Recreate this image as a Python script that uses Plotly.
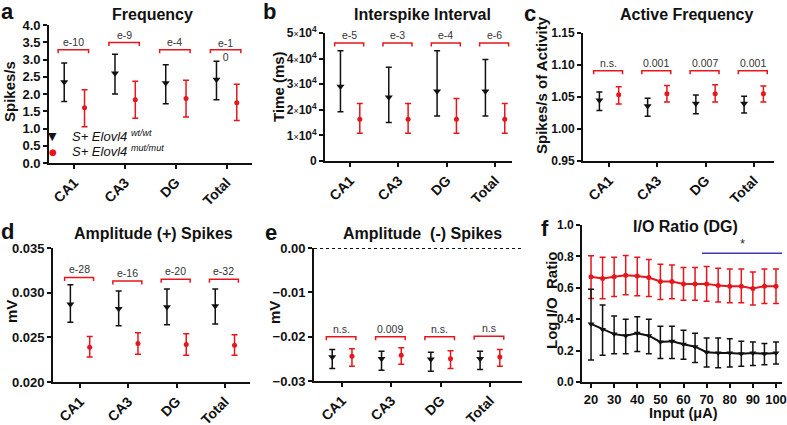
import plotly.graph_objects as go

W, H = 787, 425
FONT = "Liberation Sans, Arial, Helvetica, sans-serif"
BLACK = "#111111"
RED = "#e5161d"
BLUE = "#3b3bb8"
GRAY = "#333333"

categories = ["CA1", "CA3", "DG", "Total"]

# (a) Frequency (Spikes/s)
freq_wt = [2.35, 2.60, 2.32, 2.42]
freq_wt_hi = [2.90, 3.15, 2.85, 2.95]
freq_wt_lo = [1.78, 2.00, 1.72, 1.83]
freq_mut = [1.60, 1.83, 1.87, 1.75]
freq_mut_hi = [2.12, 2.37, 2.40, 2.28]
freq_mut_lo = [1.05, 1.30, 1.33, 1.23]
freq_brk = [3.28, 3.49, 3.28, 3.28]
freq_p = ["e-10", "e-9", "e-4", "e-1<br>0"]

# (b) Interspike interval (ms)
isi_wt = [29100, 24900, 27200, 27200]
isi_wt_hi = [43100, 36600, 43100, 39600]
isi_wt_lo = [19200, 15000, 17600, 17600]
isi_mut = [16300, 16300, 16300, 16300]
isi_mut_hi = [22500, 22500, 24400, 22500]
isi_mut_lo = [10800, 10800, 10800, 10800]
isi_brk = [46100, 46100, 46100, 46100]
isi_p = ["e-5", "e-3", "e-4", "e-6"]
isi_ticks = [0, 10000, 20000, 30000, 40000, 50000]
isi_mant = ["0", "1", "2", "3", "4", "5"]

# (c) Active frequency (Spikes/s of activity)
act_wt = [1.0448, 1.036, 1.040, 1.040]
act_wt_hi = [1.058, 1.048, 1.053, 1.051]
act_wt_lo = [1.029, 1.020, 1.024, 1.025]
act_mut = [1.0535, 1.055, 1.055, 1.055]
act_mut_hi = [1.066, 1.068, 1.069, 1.067]
act_mut_lo = [1.039, 1.042, 1.042, 1.042]
act_brk = [1.091, 1.091, 1.091, 1.091]
act_p = ["n.s.", "0.001", "0.007", "0.001"]

# (d) Amplitude (+) spikes (mV)
ampp_wt = [0.0287, 0.0282, 0.0284, 0.0285]
ampp_wt_hi = [0.0309, 0.0302, 0.0304, 0.0304]
ampp_wt_lo = [0.0267, 0.0263, 0.0264, 0.0265]
ampp_mut = [0.0239, 0.0243, 0.0242, 0.0241]
ampp_mut_hi = [0.0251, 0.0255, 0.0254, 0.0253]
ampp_mut_lo = [0.0228, 0.0231, 0.0230, 0.0230]
ampp_brk = [0.0317, 0.0313, 0.0315, 0.0315]
ampp_p = ["e-28", "e-16", "e-20", "e-32"]

# (e) Amplitude (-) spikes (mV)
ampn_wt = [-0.0246, -0.0250, -0.0251, -0.0250]
ampn_wt_hi = [-0.0229, -0.0233, -0.0235, -0.0233]
ampn_wt_lo = [-0.0272, -0.0276, -0.0278, -0.0274]
ampn_mut = [-0.0244, -0.0242, -0.0250, -0.0246]
ampn_mut_hi = [-0.0227, -0.0225, -0.0232, -0.0229]
ampn_mut_lo = [-0.0267, -0.0262, -0.0272, -0.0267]
ampn_brk = [-0.0200, -0.0200, -0.0200, -0.0199]
ampn_p = ["n.s.", "0.009", "n.s.", "n.s"]

# (f) I/O ratio (DG)
io_input = [20, 25, 30, 35, 40, 45, 50, 55, 60, 65, 70, 75, 80, 85, 90, 95, 100]
io_mut = [0.670, 0.660, 0.670, 0.680, 0.675, 0.665, 0.640, 0.640, 0.625, 0.625, 0.625, 0.615, 0.610, 0.610, 0.595, 0.610, 0.610]
io_mut_hi = [0.804, 0.795, 0.795, 0.805, 0.795, 0.780, 0.750, 0.745, 0.730, 0.730, 0.735, 0.725, 0.720, 0.720, 0.700, 0.720, 0.720]
io_mut_lo = [0.532, 0.530, 0.545, 0.555, 0.550, 0.545, 0.525, 0.530, 0.520, 0.520, 0.515, 0.510, 0.505, 0.505, 0.490, 0.500, 0.500]
io_wt = [0.370, 0.335, 0.305, 0.295, 0.310, 0.295, 0.255, 0.260, 0.240, 0.225, 0.190, 0.185, 0.185, 0.180, 0.185, 0.180, 0.185]
io_wt_hi = [0.590, 0.490, 0.420, 0.400, 0.415, 0.400, 0.355, 0.355, 0.330, 0.310, 0.280, 0.280, 0.275, 0.260, 0.255, 0.245, 0.255]
io_wt_lo = [0.140, 0.170, 0.180, 0.180, 0.195, 0.180, 0.150, 0.150, 0.145, 0.125, 0.095, 0.090, 0.095, 0.100, 0.105, 0.110, 0.115]
io_sig_start = 68
io_sig_level = 0.82
io_xticks = [20, 30, 40, 50, 60, 70, 80, 90, 100]

legend_wt = "<i>S+ Elovl4</i> <sup><i>wt/wt</i></sup>"
legend_mut = "<i>S+ Elovl4</i> <sup><i>mut/mut</i></sup>"


def pxx(v):
    return v / W


def pxy(v):
    return 1 - v / H


def tfont(size):
    return dict(family=FONT, size=size, color=BLACK, weight="bold")


def label(x, y, text, size, angle=0, bold=True, xanchor="center", color=BLACK, family=FONT):
    return dict(x=pxx(x), y=pxy(y), xref="paper", yref="paper", text=text, showarrow=False,
                xanchor=xanchor, yanchor="middle", textangle=angle,
                font=dict(family=family, size=size, color=color, weight="bold" if bold else "normal"))


isi_ticktext = [m if m == "0" else
                m + "<span style='font-size:9px;font-weight:normal'>×</span>10<sup>4</sup>"
                for m in isi_mant]

fig = go.Figure()
annotations = []
shapes = []

panels = [
    dict(k="", letter="a", title="Frequency", ytitle="Spikes/s",
         xpx=(49, 252), ypx=(25, 163), xr=(-0.5, 3.5), yr=(0, 4.0), tsize=13,
         yt=dict(tickvals=[0, 0.5, 1, 1.5, 2, 2.5, 3, 3.5, 4], tickformat=".1f"),
         data=(freq_wt, freq_wt_hi, freq_wt_lo, freq_mut, freq_mut_hi, freq_mut_lo, freq_brk, freq_p),
         lpos=(7, 12), tpos=(152, 15), ytpos=(10, 92)),
    dict(k="2", letter="b", title="Interspike Interval", ytitle="Time (ms)",
         xpx=(325, 512), ypx=(33, 161), xr=(-0.52, 3.35), yr=(0, 50000), tsize=12,
         yt=dict(tickvals=isi_ticks, ticktext=isi_ticktext),
         data=(isi_wt, isi_wt_hi, isi_wt_lo, isi_mut, isi_mut_hi, isi_mut_lo, isi_brk, isi_p),
         lpos=(269, 12), tpos=(422, 15), ytpos=(278, 87)),
    dict(k="3", letter="c", title="Active Frequency", ytitle="Spikes/s of Activity",
         xpx=(583, 774), ypx=(33, 161), xr=(-0.54, 3.42), yr=(0.95, 1.15), tsize=12,
         yt=dict(tickvals=[0.95, 1.0, 1.05, 1.10, 1.15], tickformat=".2f"),
         data=(act_wt, act_wt_hi, act_wt_lo, act_mut, act_mut_hi, act_mut_lo, act_brk, act_p),
         lpos=(530, 13), tpos=(686, 15), ytpos=(542, 85)),
    dict(k="4", letter="d", title="Amplitude (+) Spikes", ytitle="mV",
         xpx=(53, 250), ypx=(248, 382), xr=(-0.56, 3.52), yr=(0.020, 0.035), tsize=13,
         yt=dict(tickvals=[0.020, 0.025, 0.030, 0.035], tickformat=".3f"),
         data=(ampp_wt, ampp_wt_hi, ampp_wt_lo, ampp_mut, ampp_mut_hi, ampp_mut_lo, ampp_brk, ampp_p),
         lpos=(7, 231), tpos=(153, 233), ytpos=(11, 312)),
    dict(k="5", letter="e", title="Amplitude  (-) Spikes", ytitle="mV",
         xpx=(314, 522), ypx=(248, 381), xr=(-0.57, 3.65), yr=(-0.03, 0.0), tsize=13,
         yt=dict(tickvals=[-0.03, -0.02, -0.01, 0.0], tickformat=".2f"),
         data=(ampn_wt, ampn_wt_hi, ampn_wt_lo, ampn_mut, ampn_mut_hi, ampn_mut_lo, ampn_brk, ampn_p),
         lpos=(271, 232), tpos=(422, 233), ytpos=(274, 313), zero=True),
]

axis_common = dict(showline=True, linecolor=BLACK, linewidth=1.8, ticks="outside",
                   ticklen=4, tickwidth=1.5, tickcolor=BLACK, showgrid=False, zeroline=False)

off = 0.2
for p in panels:
    k = p["k"]
    xa, ya = "x" + k, "y" + k
    wt, wt_hi, wt_lo, mut, mut_hi, mut_lo, brk, plab = p["data"]
    idx = list(range(len(categories)))
    xw = [i - off for i in idx]
    xm = [i + off for i in idx]
    fig.add_trace(go.Scatter(
        x=xw, y=wt, xaxis=xa, yaxis=ya, mode="markers", name="S+ Elovl4 wt/wt", showlegend=False,
        marker=dict(symbol="triangle-down", size=7, color=BLACK),
        error_y=dict(type="data", symmetric=False,
                     array=[h - v for h, v in zip(wt_hi, wt)],
                     arrayminus=[v - l for v, l in zip(wt, wt_lo)],
                     color=BLACK, thickness=1.5, width=3)))
    fig.add_trace(go.Scatter(
        x=xm, y=mut, xaxis=xa, yaxis=ya, mode="markers", name="S+ Elovl4 mut/mut", showlegend=False,
        marker=dict(symbol="circle", size=5, color=RED),
        error_y=dict(type="data", symmetric=False,
                     array=[h - v for h, v in zip(mut_hi, mut)],
                     arrayminus=[v - l for v, l in zip(mut, mut_lo)],
                     color=RED, thickness=1.5, width=3)))
    # significance brackets
    d = 3.5 * (p["yr"][1] - p["yr"][0]) / (p["ypx"][1] - p["ypx"][0])
    bx, by = [], []
    for i, h in zip(idx, brk):
        bx += [i - 0.32, i - 0.32, i + 0.28, i + 0.28, None]
        by += [h - d, h, h, h - d, None]
    fig.add_trace(go.Scatter(x=bx, y=by, xaxis=xa, yaxis=ya, mode="lines", showlegend=False,
                             line=dict(color=RED, width=1.5), hoverinfo="skip"))
    for i, h, t in zip(idx, brk, plab):
        multi = "<br>" in t
        annotations.append(dict(x=i - 0.02, y=h, xref=xa, yref=ya, text=t, showarrow=False,
                                xanchor="center", yanchor="middle" if multi else "bottom",
                                font=dict(family=FONT, size=10.5, color=GRAY)))
    if p.get("zero"):
        shapes.append(dict(type="line", xref=xa + " domain", yref=ya, x0=0, x1=1, y0=0, y1=0,
                           line=dict(color=BLACK, width=1.8, dash="dot")))
    fig.update_layout(**{
        ("xaxis" + k): dict(axis_common, domain=[pxx(p["xpx"][0]), pxx(p["xpx"][1])],
                            range=list(p["xr"]), tickvals=idx, ticktext=categories,
                            tickangle=-45, anchor=ya, tickfont=tfont(14)),
        ("yaxis" + k): dict(axis_common, domain=[pxy(p["ypx"][1]), pxy(p["ypx"][0])],
                            range=list(p["yr"]), anchor=xa, tickfont=tfont(p["tsize"]), **p["yt"]),
    })
    annotations.append(label(p["lpos"][0], p["lpos"][1], p["letter"], 22))
    annotations.append(label(p["tpos"][0], p["tpos"][1], p["title"], 16))
    annotations.append(label(p["ytpos"][0], p["ytpos"][1], p["ytitle"], 15, angle=-90))

# legend of panel a (symbol + italic genotype label)
annotations.append(label(53, 137, "▼", 11, bold=False, color=BLACK, family="DejaVu Sans"))
annotations.append(label(53, 152, "●", 9, bold=False, color=RED, family="DejaVu Sans"))
annotations.append(label(70, 136, legend_wt, 13, bold=False, xanchor="left"))
annotations.append(label(70, 151, legend_mut, 13, bold=False, xanchor="left"))

# (f) I/O ratio panel
fig.add_trace(go.Scatter(
    x=io_input, y=io_mut, xaxis="x6", yaxis="y6", mode="lines+markers", showlegend=False,
    line=dict(color=RED, width=2), marker=dict(symbol="circle", size=5, color=RED),
    error_y=dict(type="data", symmetric=False,
                 array=[h - v for h, v in zip(io_mut_hi, io_mut)],
                 arrayminus=[v - l for v, l in zip(io_mut, io_mut_lo)],
                 color=RED, thickness=1.5, width=3)))
fig.add_trace(go.Scatter(
    x=io_input, y=io_wt, xaxis="x6", yaxis="y6", mode="lines+markers", showlegend=False,
    line=dict(color=BLACK, width=2), marker=dict(symbol="triangle-down", size=6, color=BLACK),
    error_y=dict(type="data", symmetric=False,
                 array=[h - v for h, v in zip(io_wt_hi, io_wt)],
                 arrayminus=[v - l for v, l in zip(io_wt, io_wt_lo)],
                 color=BLACK, thickness=1.5, width=3)))
fig.update_layout(
    xaxis6=dict(axis_common, domain=[pxx(582), pxx(782)], range=[16.1, 102.6], anchor="y6",
                tickvals=io_xticks, tickfont=tfont(13)),
    yaxis6=dict(axis_common, domain=[pxy(382), pxy(225)], range=[0, 1.0], anchor="x6",
                tickvals=[0, 0.2, 0.4, 0.6, 0.8, 1.0], tickformat=".1f", tickfont=tfont(12)),
)
shapes.append(dict(type="line", xref="x6", yref="y6", x0=io_sig_start, x1=102.6,
                   y0=io_sig_level, y1=io_sig_level, line=dict(color=BLUE, width=1.5)))
annotations.append(dict(x=85.5, y=io_sig_level, xref="x6", yref="y6", text="*", showarrow=False,
                        xanchor="center", yanchor="bottom",
                        font=dict(family=FONT, size=13, color=GRAY)))
annotations.append(label(545, 228, "f", 22))
annotations.append(label(685, 226, "I/O Ratio (DG)", 16))
annotations.append(label(551, 300, "Log I/O  Ratio", 15, angle=-90))
annotations.append(label(683, 413, "Input (μA)", 14.5))

fig.update_layout(
    width=W, height=H, margin=dict(l=0, r=0, t=0, b=0),
    paper_bgcolor="white", plot_bgcolor="white", template="none",
    font=dict(family=FONT, color=BLACK),
    annotations=annotations, shapes=shapes,
    showlegend=False,
)

fig.write_html("out.html", config={"displayModeBar": False},
               post_script="document.body.style.margin='0px';")
